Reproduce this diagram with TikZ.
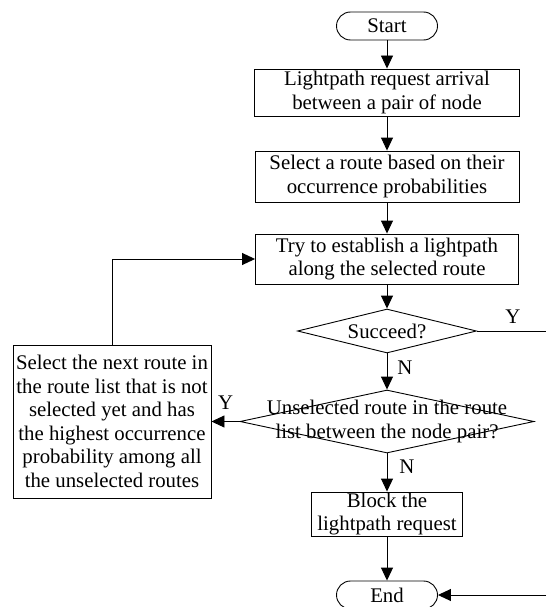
\documentclass[tikz,border=0pt]{standalone}
\usepackage{fontspec}
\setmainfont{Liberation Serif}
\usetikzlibrary{arrows.meta,positioning,shapes.geometric}

\tikzstyle{terminal} = [rectangle, rounded corners=14pt,
                      minimum width=101pt, minimum height=28pt,
                      inner sep=1pt,
                      draw=black, line width=0.9pt]
\tikzstyle{process} = [rectangle, minimum height=49pt,
                      inner sep=1pt,
                      align=center,
                      draw=black, line width=0.9pt]
\tikzstyle{decision} = [diamond, aspect=4, inner sep=0pt,
                      draw=black, line width=0.9pt]
\tikzstyle{flow} = [line width=0.9pt, -{Triangle[length=13pt,width=12pt]}]
\tikzstyle{line} = [line width=0.9pt]
\tikzstyle{yesno} = [inner sep=0pt]

\begin{document}
\begin{tikzpicture}[node distance=80pt, font=\fontsize{20.8}{23.5}\selectfont]
  \useasboundingbox (0,0) rectangle (546pt,-607pt);

  \node (start) [terminal] at (387pt,-26pt) {Start};

  \node (arrival) [process, minimum width=265pt, minimum height=47pt,
                   below of=start, yshift=13.5pt] {
    Lightpath request arrival\\
    between a pair of node
  };

  \node (select) [process, minimum width=264pt, minimum height=51pt,
                  below of=arrival, yshift=-4pt] {
    Select a route based on their\\
    occurrence probabilities
  };

  \node (establish) [process, minimum width=263pt, minimum height=50pt,
                     below of=select, yshift=-2.5pt] {
    Try to establish a lightpath\\
    along the selected route
  };

  \node (succeed) [decision, minimum width=179pt, minimum height=44pt,
                   below of=establish, yshift=8pt] {
    Succeed?
  };

  \node (unsel) [decision, minimum width=294pt, minimum height=63pt,
                 below of=succeed, yshift=-10.5pt] {};
  \node (unsel-text) [align=center] at (unsel) {
    Unselected route in the route\\
    list between the node pair?
  };

  \node (next) [process, minimum width=198pt, minimum height=153pt,
                left of=unsel, xshift=-195pt] {
    Select the next route in\\
    the route list that is not\\
    selected yet and has\\
    the highest occurrence\\
    probability among all\\
    the unselected routes
  };

  \node (block) [process, minimum width=151pt, minimum height=44pt,
                 inner ysep=0pt, below of=unsel, yshift=-12.5pt] {
    Block the\\
    lightpath request
  };

  \node (end) [terminal, below of=block, yshift=-1pt] {
    End
  };

  % right edge, where the picture is cut
  \coordinate (rim) at (546pt,0);

  \draw[flow] (start) to (arrival);
  \draw[flow] (arrival) to (select);
  \draw[flow] (select) to (establish);
  \draw[flow] (establish) to (succeed);
  \draw[flow] (succeed) to (unsel);
  \draw[flow] (unsel) to (block);
  \draw[flow] (block) to (end);
  \draw[flow] (unsel.west) to (next.east);
  \draw[flow] (next.north) |- (establish.west);

  \draw[line] (succeed.east) to (succeed -| rim);
  \draw[flow] (end -| rim) to (end.east);

  \node (succ-y) [yesno, xshift=36pt, yshift=14pt] at (succeed.east) {Y};
  \node (succ-n) [yesno, xshift=18pt, yshift=-14pt] at (succeed.south) {N};
  \node (unsel-y) [yesno, xshift=-14pt, yshift=19pt] at (unsel.west) {Y};
  \node (unsel-n) [yesno, xshift=20pt, yshift=-13pt] at (unsel.south) {N};

\end{tikzpicture}
\end{document}
